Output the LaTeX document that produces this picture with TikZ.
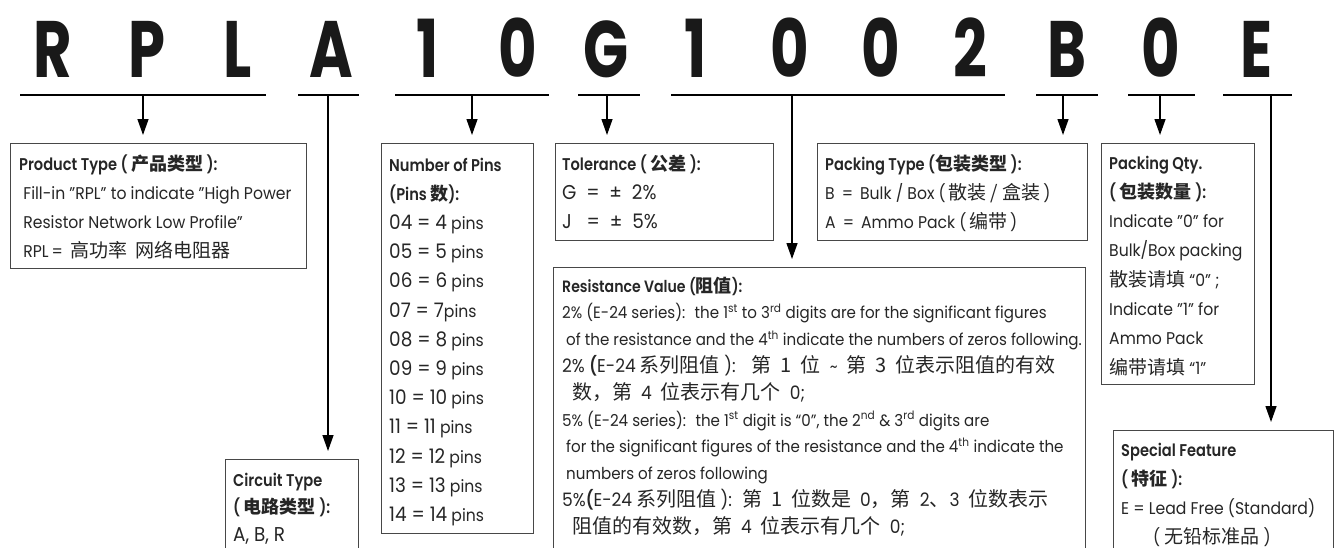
\documentclass[tikz,border=0pt]{standalone}
\usepackage{fontspec}
\setmainfont{Poppins}[FakeStretch=0.92, BoldFont={Poppins SemiBold}, BoldFeatures={FakeStretch=0.86}]
\newfontfamily\codefont{Poppins}[FakeStretch=0.74]
\newfontfamily\cjk{Noto Sans CJK SC}
\usetikzlibrary{arrows.meta}
\tikzset{
  boxline/.style={draw=black!72, line width=1.1pt, inner sep=0pt, anchor=north west},
  arr/.style={line width=1.3pt, -{Triangle[width=11pt,length=16pt]}, shorten >=8pt},
  uline/.style={line width=2.4pt},
  code/.style={font=\codefont\bfseries\fontsize{80}{80}\selectfont, anchor=base, inner sep=0pt, text=black!90},
  txt/.style={anchor=base west, inner sep=0pt, font=\fontsize{17}{20}\selectfont, text=black!85},
  rtxt/.style={txt, font=\fontsize{16.4}{20}\selectfont},
}
\newcommand\rowsat[6][txt]{% style, name, x, y0, pitch, list
  \foreach \t [count=\i from 0] in {#6} {
    \node[#1] (#2-\i) at (#3, {#4+\i*#5}) {\t};
  }}
\newcommand\Bg[1]{{\fontsize{20}{22}\selectfont #1}}
\newcommand\Md[1]{{\fontsize{18.5}{22}\selectfont #1}}
\newcommand\pinrow[2]{\Bg{#1 = #2} pins}
\newcommand\Cj[1]{{\cjk\fontsize{19}{22}\selectfont #1}}
\newcommand\Rc[1]{{\cjk\fontsize{20}{22}\selectfont #1}}
\newcommand\Cb[1]{{\cjk\bfseries\fontsize{18}{22}\selectfont #1}}
\newcommand\gap{\hspace{8pt}}
\newcommand\rgap{\hspace{9pt}}
\begin{document}
\begin{tikzpicture}[x=1pt,y=-1pt]
\clip (0,0) rectangle (1337,547);
\fill[white] (0,0) rectangle (1337,547);

% code letters
\node[code] (cR)  at (53,77)   {R};
\node[code] (cP)  at (147,77)  {P};
\node[code] (cL)  at (238,77)  {L};
\node[code] (cA)  at (331,77)  {A};
\node[code] (c1)  at (428,77)  {1};
\node[code] (c0)  at (518,77)  {0};
\node[code] (cG)  at (606,77)  {G};
\node[code] (d1)  at (696,77)  {1};
\node[code] (d0)  at (790,77)  {0};
\node[code] (d0b) at (881,77)  {0};
\node[code] (d2)  at (970,77)  {2};
\node[code] (cB)  at (1067,77) {B};
\node[code] (cQ)  at (1161,77) {0};
\node[code] (cE)  at (1256,77) {E};

% underlines
\draw[uline] (20,95) -- (266,95);
\draw[uline] (298,95) -- (359,95);
\draw[uline] (395,95) -- (549,95);
\draw[uline] (578,95) -- (640,95);
\draw[uline] (671,95) -- (1005,95);
\draw[uline] (1036,95) -- (1098,95);
\draw[uline] (1128,95) -- (1195,95);
\draw[uline] (1223,95) -- (1292,95);

\coordinate (jRPL) at (143,95);
\coordinate (jA) at (328,95);
\coordinate (jN) at (472,95);
\coordinate (jG) at (607,95);
\coordinate (jR) at (792,95);
\coordinate (jB) at (1063,95);
\coordinate (jQ) at (1160,95);
\coordinate (jE) at (1271,95);

% boxes
\node[boxline, minimum width=296pt, minimum height=125pt] (bProd) at (10,143) {};
\node[boxline, minimum width=133pt, minimum height=200pt] (bCirc) at (225,459) {};
\node[boxline, minimum width=152pt, minimum height=390pt] (bPins) at (381,143) {};
\node[boxline, minimum width=218pt, minimum height=97pt] (bTol) at (555,143) {};
\node[boxline, minimum width=270pt, minimum height=97pt] (bPack) at (817,143) {};
\node[boxline, minimum width=532pt, minimum height=400pt] (bRes) at (553,267) {};
\node[boxline, minimum width=153pt, minimum height=241pt] (bQty) at (1101,143) {};
\node[boxline, minimum width=220pt, minimum height=200pt] (bSpec) at (1113,430) {};

% connectors
\draw[arr] (jRPL) -- (jRPL |- bProd.north);
\draw[arr] (jA) -- (jA |- bCirc.north);
\draw[arr] (jN) -- (jN |- bPins.north);
\draw[arr] (jG) -- (jG |- bTol.north);
\draw[arr] (jR) -- (jR |- bRes.north);
\draw[arr] (jB) -- (jB |- bPack.north);
\draw[arr] (jQ) -- (jQ |- bQty.north);
\draw[arr] (jE) -- (jE |- bSpec.north);

% texts
\rowsat{tProd}{19}{170}{29}{
  {\textbf{Product Type ( \Cb{产品类型} ):}},
  {\ Fill-in "RPL" to indicate "High Power},
  {\ Resistor Network Low Profile"},
  {\ RPL\,=\gap\Cj{高功率\gap 网络电阻器}}}

\rowsat{tCirc}{233}{486}{27.5}{
  {\textbf{Circuit Type}},
  {\textbf{( \Cb{电路类型} ):}},
  {\Bg{A, B, R}}}

\rowsat{tPins}{389}{171}{29.2}{
  {\textbf{Number of Pins}},
  {\textbf{(Pins \Cb{数}):}},
  {\pinrow{04}{4}},
  {\pinrow{05}{5}},
  {\pinrow{06}{6}},
  {\Bg{07 = 7}pins},
  {\pinrow{08}{8}},
  {\pinrow{09}{9}},
  {\pinrow{10}{10}},
  {\pinrow{11}{11}},
  {\pinrow{12}{12}},
  {\pinrow{13}{13}},
  {\pinrow{14}{14}}}

\rowsat{tTol}{562}{170}{29}{
  {\textbf{Tolerance ( \Cb{公差} ):}},
  {\Bg{G \ = \ ± \ 2\%}},
  {\Bg{J \ \ = \ ± \ 5\%}}}

\rowsat{tPack}{825}{170}{29}{
  {\textbf{Packing Type (\Cb{包装类型} ):}},
  {B \,=\, Bulk / Box (\,\Cj{散装 / 盒装}\,)},
  {A \,=\, Ammo Pack (\,\Cj{编带}\,)}}

\rowsat[rtxt]{tRes}{562}{292}{26.8}{
  {\textbf{Resistance Value (\Cb{阻值}):}},
  {2\% (E-24 series): \ the 1\textsuperscript{st} to 3\textsuperscript{rd} digits are for the significant figures},
  {\ of the resistance and the 4\textsuperscript{th} indicate the numbers of zeros following.},
  {\Md{2\% \textbf{(}E-24} \Rc{系列阻值}\Md{\ ):}\hspace{16pt}\Rc{第}\rgap\Rc{1}\rgap\Rc{位}\rgap\textasciitilde\rgap\Rc{第}\rgap\Rc{3}\rgap\Rc{位表示阻值的有效}},
  {\hspace{10pt}\Rc{数，第}\rgap\Md{4}\rgap\Rc{位表示有几个}\rgap\Md{0;}},
  {5\% (E-24 series): \ the 1\textsuperscript{st} digit is “0”, the 2\textsuperscript{nd} \& 3\textsuperscript{rd} digits are},
  {\ for the significant figures of the resistance and the 4\textsuperscript{th} indicate the},
  {\ numbers of zeros following},
  {\Md{5\%\textbf{(}E-24} \Rc{系列阻值}\Md{\ ):}\hspace{10pt}\Rc{第}\rgap\Rc{1}\rgap\Rc{位数是}\rgap\Md{0}\Rc{，第}\rgap\Md{2}\Rc{、}\Md{3}\rgap\Rc{位数表示}},
  {\hspace{10pt}\Rc{阻值的有效数，第}\rgap\Md{4}\rgap\Rc{位表示有几个}\rgap\Md{0;}}}

\rowsat{tQty}{1109}{169}{29.3}{
  {\textbf{Packing Qty.}},
  {\textbf{( \Cb{包装数量} ):}},
  {Indicate "0" for},
  {Bulk/Box packing},
  {\Cj{散装请填} “0” ;},
  {Indicate "1" for},
  {Ammo Pack},
  {\Cj{编带请填} “1”}}

\rowsat{tSpec}{1121}{456}{29}{
  {\textbf{Special Feature}},
  {\textbf{( \Cb{特征} ):}},
  {E = Lead Free (Standard)},
  {\hspace{32pt}( \Cj{无铅标准品} )}}
\end{tikzpicture}
\end{document}
